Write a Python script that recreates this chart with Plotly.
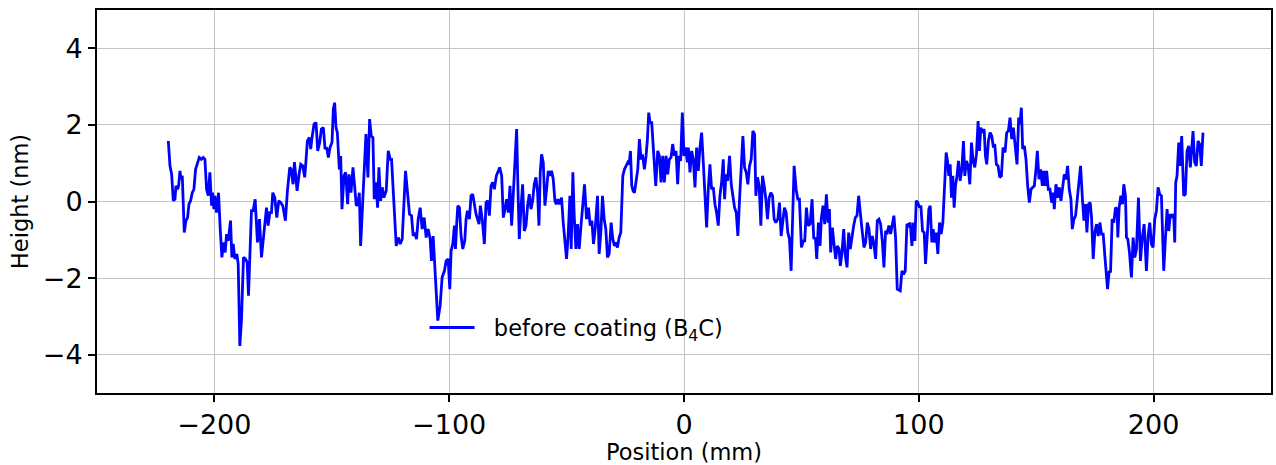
import plotly.graph_objects as go

position_mm = [
    -219.63, -218.92, -218.21, -217.50, -216.79, -216.37, -215.66, -215.24, -214.67, -214.24,
    -213.68, -212.83, -212.12, -211.41, -210.84, -210.13, -209.43, -208.72, -208.01, -207.30,
    -206.45, -205.60, -204.75, -204.04, -203.33, -202.62, -201.92, -201.21, -200.78, -200.22,
    -199.79, -199.08, -198.23, -197.52, -196.81, -196.11, -195.40, -194.83, -194.12, -193.13,
    -192.56, -192.00, -191.29, -190.44, -189.87, -189.16, -188.46, -187.61, -186.76, -186.05,
    -185.48, -184.21, -183.50, -182.65, -181.66, -180.81, -179.95,
    -177.82, -177.11, -176.40, -175.70, -175.13, -174.28, -173.43, -172.58, -171.73, -170.88,
    -169.75, -168.90, -167.90, -167.34, -166.49, -165.92, -165.35, -164.79, -163.94, -163.23,
    -162.38, -161.53, -160.96, -160.39, -159.54, -158.98, -158.41, -157.56, -156.71, -156.00,
    -155.15, -154.44, -153.59, -152.88, -152.18, -151.47, -150.76, -149.91, -149.34, -148.78,
    -148.21, -147.64, -146.79, -146.22, -145.66, -144.81, -144.10, -143.25, -142.68, -141.83,
    -140.98, -140.27, -139.57, -138.86, -138.29, -137.72, -137.02, -136.16, -135.46, -134.61,
    -133.90, -133.19,
    -132.48, -131.92, -131.21, -130.50, -129.93, -129.22, -128.52, -127.81, -126.82, -125.97,
    -125.12, -124.55, -123.70, -122.56, -121.71, -120.86, -120.01, -118.60, -117.75, -116.90,
    -116.05, -115.34, -114.63, -113.92, -113.21, -112.36, -111.51, -110.66, -109.81, -108.96,
    -108.11, -107.55, -106.84, -105.85, -104.85, -103.86, -103.01, -102.02, -101.31, -100.46,
    -99.75, -99.19, -98.48, -97.77, -97.34, -96.78, -96.35, -95.64, -94.94, -94.23,
    -93.38, -92.81, -92.24, -91.39, -90.69, -89.98, -89.13, -88.56,
    -87.29, -86.72, -85.87, -85.02, -84.31, -83.60, -82.89, -82.19, -81.48, -80.77,
    -79.92, -79.21, -78.50, -77.65, -76.94, -76.23, -75.53, -74.82, -74.11, -73.40,
    -72.69, -71.98, -71.28, -70.71, -70.14, -69.43, -68.72, -68.02, -67.31, -66.60,
    -65.89, -65.18, -64.47, -63.77, -63.06, -62.35, -61.78, -61.22, -60.65, -59.94,
    -59.23, -58.52, -57.82, -57.11, -56.40, -55.69, -54.98, -54.42, -53.71, -53.00,
    -52.15, -51.44, -50.73, -50.02, -49.31, -48.60, -48.04, -47.33, -46.76, -46.05,
    -45.35, -44.64, -43.93,
    -42.36, -41.51, -40.66, -39.95, -39.25, -38.54, -37.83, -36.84, -36.13, -35.42,
    -34.71, -34.00, -33.30, -32.59, -31.88, -31.03, -30.32, -29.61, -29.05, -28.34,
    -27.63, -26.92, -26.07, -25.36, -24.79, -23.94, -23.38, -22.81, -22.24, -21.68,
    -21.11, -20.40, -19.69, -18.98, -18.28, -17.71, -16.86, -16.15, -15.58, -15.02,
    -14.45, -13.74, -12.89, -12.04, -11.19, -10.48, -9.77, -9.07, -8.36, -7.65,
    -6.94, -6.23, -5.52, -4.82, -4.11, -3.40, -2.69, -2.12, -1.42, -0.71,
    0.00, 0.71, 1.42,
    1.84, 2.55, 3.26, 3.97, 4.68, 5.38, 6.09, 6.80, 7.51, 8.22,
    8.93, 9.63, 10.34, 11.05, 11.76, 12.47, 13.18, 13.89, 14.59, 15.30,
    16.01, 16.72, 17.29, 17.85, 18.56, 19.41, 20.12, 20.83, 21.54, 22.25,
    22.95, 23.66, 24.37, 25.08, 25.79, 26.50, 27.20, 27.91, 28.62, 29.33,
    30.04, 30.61, 31.31, 32.02, 32.73, 33.44, 34.15, 34.86, 35.56, 36.27,
    36.98, 37.69, 38.40, 39.11, 39.96, 40.67, 41.37, 42.08, 42.79, 43.50,
    44.21, 44.92, 45.62,
    46.90, 47.75, 48.46, 49.16, 50.01, 50.86, 51.43, 52.14, 52.85, 53.70,
    54.55, 55.26, 55.97, 56.53, 57.24, 57.95, 58.52, 59.22, 59.93, 60.64,
    61.35, 61.92, 62.48, 63.19, 63.90, 64.61, 65.32, 66.03, 66.59, 67.30,
    68.01, 68.72, 69.43, 70.13, 70.84, 71.55, 72.26, 72.97, 73.68, 74.38,
    75.09, 75.80, 76.65, 77.36, 78.07, 78.78, 79.49, 80.19, 80.90, 81.61,
    82.32, 83.03, 83.74, 84.45, 85.15, 85.86, 86.57, 87.28, 87.99, 88.70,
    89.40, 90.11, 90.82,
    92.10, 92.81, 93.52, 94.23, 94.94, 95.65, 96.35, 97.06, 97.77, 98.34,
    98.90, 99.61, 100.32, 100.89, 101.60, 102.31, 102.87, 103.58, 104.29, 104.86,
    105.56, 106.13, 106.84, 107.41, 108.11, 108.82, 109.53, 110.24, 110.95, 111.66,
    112.22, 112.79, 113.36, 113.92, 114.49, 115.06, 115.62, 116.19, 116.90, 117.61,
    118.32, 119.02, 119.59, 120.30, 121.01, 121.72, 122.43, 123.13, 123.84, 124.55,
    125.26, 125.83, 126.39, 126.96, 127.81, 128.38, 128.94, 129.65, 130.36, 131.07,
    131.78, 132.34, 133.05, 133.76, 134.47, 135.18, 135.89,
    136.73, 137.44, 138.15, 138.86, 139.57, 140.28, 140.98, 141.83, 142.54, 143.11,
    143.68, 144.24, 144.95, 145.66, 146.37, 147.08, 147.79, 148.49, 149.20, 149.91,
    150.48, 151.19, 151.89, 152.60, 153.17, 153.88, 154.45, 155.15, 155.86, 156.57,
    157.28, 157.70, 158.41, 159.12, 159.83, 160.54, 161.25, 161.96, 162.66, 163.37,
    164.08, 164.79, 165.36, 166.07, 166.77, 167.48, 168.19, 168.90, 169.61, 170.32,
    171.03, 171.59, 172.30, 173.01, 173.57, 174.28, 174.99, 175.70, 176.41, 177.12,
    177.82, 178.53, 179.24, 179.95, 180.38,
    181.08, 181.65, 182.36, 183.06, 183.77, 184.48, 184.76, 185.33, 186.04, 186.75,
    187.31, 188.02, 188.45, 189.01, 189.72, 190.57, 191.28, 191.99, 192.70, 193.55,
    194.40, 195.11, 195.96, 196.95, 197.66, 198.37, 199.08, 199.78, 200.49, 201.20,
    201.91, 202.62, 203.33, 204.32, 205.03, 205.74, 206.44, 207.15, 207.86, 208.57,
    209.00, 209.42, 209.99, 210.70, 211.26, 211.97, 212.82, 213.53, 214.24, 214.95,
    215.65, 216.22, 216.79, 217.50, 218.20, 218.91, 219.62, 220.33, 221.04,
]

height_nm = [
    1.58, 0.93, 0.71, 0.02, 0.06, 0.41, 0.32, 0.41, 0.80, 0.58,
    0.67, -0.81, -0.50, -0.42, -0.07, 0.02, 0.23, 0.32, 0.84, 0.97,
    1.15, 1.10, 1.15, 1.10, 0.32, 0.15, 0.76, -0.11, 0.23, -0.20,
    0.15, -0.29, 0.23, -0.72, -1.46, -1.07, -1.33, -0.85, -1.03, -0.50,
    -1.46, -1.11, -1.50, -1.37, -1.63, -3.77, -3.07, -1.46, -1.50, -1.59,
    -2.46, -0.24, -0.24, 0.06, -1.07, -0.46, -1.46,
    -0.16, -0.63, -0.29, -0.29, 0.23, 0.10, -0.42, 0.02, -0.03, -0.11,
    -0.50, 0.28, 0.89, 0.84, 0.45, 1.03, 0.67, 0.28, 0.71, 0.97,
    0.93, 0.63, 1.10, 1.58, 1.67, 1.37, 1.67, 2.02, 2.06, 1.32,
    1.54, 1.89, 1.93, 1.37, 1.41, 1.15, 1.41, 1.54, 2.41, 2.58,
    1.93, 1.80, 0.84, 1.19, -0.20, 0.67, 0.76, -0.07, 0.71, 0.23,
    0.89, 0.32, -0.11, -0.07, 0.23, -1.16, -0.11, 0.97, 1.76, 0.63,
    2.15, 1.71,
    1.67, 0.06, 0.50, -0.16, 0.89, 0.02, 0.37, 0.10, 0.28, 1.32,
    1.10, 1.10, 0.23, -1.16, -0.94, -1.11, -0.98, 0.80, 0.23, -0.33,
    -0.37, -0.90, -0.81, -0.98, -0.46, -0.16, -0.72, -0.42, -0.94, -0.72,
    -0.98, -1.55, -0.90, -1.90, -3.11, -2.72, -1.98, -1.81, -1.55, -1.50,
    -2.29, -1.29, -1.11, -0.63, -1.24, -0.55, -0.11, -0.16, -0.90, -1.24,
    -1.03, -0.46, -0.24, -0.46, 0.15, 0.19, -0.16, -0.33,
    -0.59, -0.11, -0.50, -1.11, -0.03, 0.02, -0.37, 0.41, 0.50, 0.32,
    0.67, 0.80, 0.89, 0.67, -0.42, -0.20, 0.06, -0.29, 0.41, -0.63,
    0.23, 0.93, 1.89, 0.32, -0.98, -0.16, 0.45, -0.77, -0.63, -0.11,
    0.19, -0.20, 0.02, 0.45, 0.63, 0.23, -0.63, 0.76, 1.23, 1.02,
    -0.11, 0.32, 0.80, 0.67, 0.80, 0.58, 0.02, -0.07, 0.06, -0.07,
    0.10, -0.55, -0.98, -1.50, -0.85, 0.15, -1.24, 0.76, -0.37, -1.24,
    -0.59, -1.24, -0.68,
    0.45, -0.46, -0.16, -0.63, -0.50, -1.11, -0.72, 0.15, -1.37, -0.81,
    0.15, -0.46, -0.72, -1.46, -1.37, -0.55, -0.98, -1.16, -1.07, -1.20,
    -0.94, -0.81, 0.67, 0.84, 0.93, 1.02, 0.97, 1.32, 0.41, 0.28,
    0.23, 0.50, 0.84, 1.63, 1.10, 1.23, 0.84, 1.19, 1.63, 2.32,
    2.06, 2.06, 1.32, 0.41, 1.32, 1.19, 0.50, 1.19, 0.50, 1.19,
    0.71, 1.10, 1.15, 1.50, 1.19, 1.32, 0.45, 1.19, 1.06, 2.32,
    1.19, 1.41, 1.02,
    1.41, 0.76, 1.32, 1.10, 0.37, 1.41, 0.80, 1.41, 1.80, 1.02,
    0.32, -0.68, 0.32, 0.97, 0.32, 0.37, -0.07, -0.29, -0.63, 0.15,
    0.50, 1.10, 0.06, 0.71, 0.54, 1.19, 0.45, 0.10, -0.16, -0.29,
    -0.90, 0.06, 1.02, 1.71, 0.89, 0.76, 0.45, 0.93, 1.10, 1.84,
    1.76, 0.15, 0.63, 0.41, -0.63, 0.67, 0.41, 0.06, -0.46, 0.10,
    0.23, 0.15, -0.46, -0.55, -0.46, -0.03, -0.90, -0.55, -0.16, -0.29,
    -0.81, -0.98, -1.81,
    0.93, 0.32, 0.06, 0.06, -1.20, -1.03, -1.03, -0.16, -0.63, -0.59,
    0.06, -0.98, -0.94, -1.50, -0.55, -1.16, -0.42, -0.11, -0.59, 0.19,
    -0.55, -0.20, -1.33, -0.68, -1.11, -1.50, -1.16, -1.24, -1.68, -1.33,
    -0.72, -1.42, -1.72, -0.81, -1.24, -0.85, -0.63, -0.42, -0.37, 0.15,
    -0.37, -0.72, -1.20, -1.07, -0.55, -0.72, -1.24, -0.90, -1.11, -1.50,
    -0.50, -0.46, -0.59, -1.03, -1.72, -0.77, -0.81, -0.63, -0.85, -0.55,
    -0.37, -0.94, -2.29,
    -2.33, -1.81, -1.90, -1.81, -0.59, -0.63, -0.55, -1.16, -0.55, -1.03,
    0.02, -0.03, -0.16, -0.11, -0.77, -0.81, -1.63, -0.72, -0.20, -0.11,
    -1.07, -0.72, -1.07, -0.81, -1.37, -0.55, -0.85, -0.55, 0.32, 1.28,
    1.06, 0.67, 0.97, 0.10, 0.67, -0.16, 0.41, 0.63, 1.06, 0.54,
    0.84, 1.58, 0.67, 1.06, 0.93, 0.45, 1.54, 1.06, 0.89, 1.23,
    2.10, 1.32, 1.93, 1.80, 1.89, 1.19, 0.97, 1.58, 1.80, 1.71,
    1.41, 1.50, 0.97, 0.93, 0.63, 0.67, 1.41,
    1.28, 1.80, 1.84, 2.19, 1.63, 1.93, 1.50, 0.97, 2.19, 2.02,
    2.45, 1.37, 1.45, 1.10, 0.41, -0.03, 0.32, 0.37, 0.41, 0.84,
    1.32, 0.58, 0.84, 0.41, 0.80, 0.41, 0.80, 0.32, 0.32, -0.03,
    0.23, -0.20, 0.45, 0.10, 0.37, 0.02, 0.41, 0.71, 0.58, 0.93,
    0.32, 0.06, -0.72, -0.46, -0.37, 0.06, 0.63, 0.93, 0.15, -0.50,
    -0.07, -0.81, -0.07, -0.03, -0.42, -1.50, -0.81, -0.59, -0.90, -0.55,
    -0.85, -0.85, -1.42, -1.90, -2.29,
    -1.81, -1.85, -0.46, -0.55, -0.16, -0.20, -0.94, -0.16, 0.15, -0.07,
    0.45, 0.15, -0.94, -0.98, -1.33, -1.98, -0.94, -1.46, -1.24, 0.10,
    -1.55, -0.98, -0.59, -1.81, -0.90, -0.55, -1.11, -1.20, -0.46, -0.24,
    0.37, 0.19, 0.15, -1.81, -0.98, -0.20, -0.77, -0.33, -0.42, -0.33,
    -1.07, 0.50, 0.67, 1.54, 0.93, 1.71, 0.15, 0.19, 1.32, 1.45,
    0.89, 1.45, 1.84, 1.02, 0.93, 1.58, 1.50, 0.93, 1.80,
]

x_ticks = [-200, -100, 0, 100, 200]
y_ticks = [-4, -2, 0, 2, 4]

FONT = "DejaVu Sans"

fig = go.Figure()
fig.add_trace(go.Scatter(
    x=position_mm, y=height_nm, mode="lines",
    line=dict(color="#0000ff", width=2.8),
    name="\u00a0\u00a0before coating (B<sub>4</sub>C)",
))

axis_common = dict(
    showline=True, linecolor="black", linewidth=2, mirror=True,
    ticks="outside", ticklen=7, tickwidth=2, tickcolor="black",
    showgrid=True, gridcolor="#c4c4c4", gridwidth=1,
    zeroline=False,
    tickfont=dict(family=FONT, size=27, color="black"),
)

fig.update_xaxes(
    range=[-250, 250], tickvals=x_ticks,
    title=dict(text="Position (mm)", font=dict(family=FONT, size=22.5, color="black"), standoff=6),
    **axis_common,
)
fig.update_yaxes(
    range=[-5, 5], tickvals=y_ticks,
    title=dict(text="Height (nm)", font=dict(family=FONT, size=22.5, color="black"), standoff=8),
    **axis_common,
)

fig.update_layout(
    width=1276, height=465,
    margin=dict(l=97, r=3, t=10, b=72),
    paper_bgcolor="white", plot_bgcolor="white",
    font=dict(family=FONT, color="black"),
    showlegend=True,
    legend=dict(
        x=0.279, y=0.17, xanchor="left", yanchor="middle",
        bgcolor="rgba(0,0,0,0)", borderwidth=0,
        font=dict(family=FONT, size=22.5, color="black"),
        itemwidth=45,
    ),
)

fig.write_html("out.html")
